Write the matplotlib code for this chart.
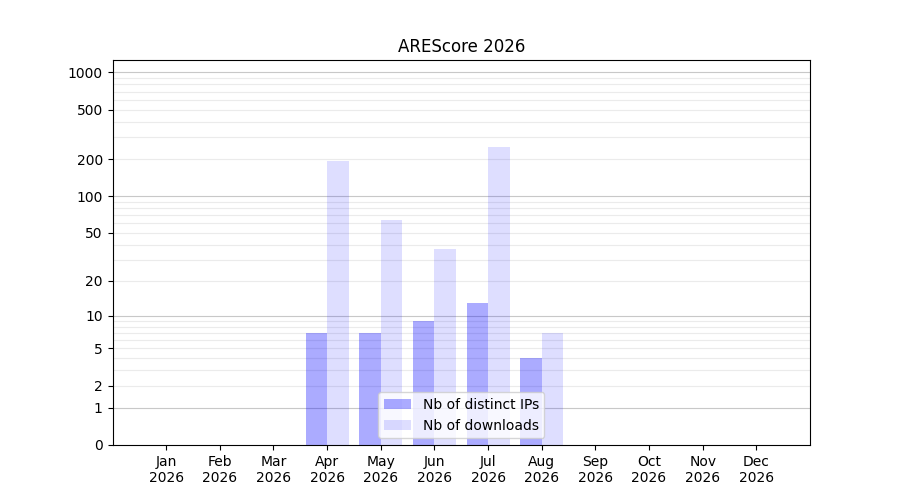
import numpy as np
import matplotlib
matplotlib.use("Agg")
import matplotlib.pyplot as plt

months = ['Jan', 'Feb', 'Mar', 'Apr', 'May', 'Jun',
          'Jul', 'Aug', 'Sep', 'Oct', 'Nov', 'Dec']
year = 2026
distinct_ips = [0, 0, 0, 7, 7, 9, 13, 4, 0, 0, 0, 0]
downloads = [0, 0, 0, 194, 64, 37, 252, 7, 0, 0, 0, 0]

ytick_vals = [0, 1, 2, 5, 10, 20, 50, 100, 200, 500, 1000]
major_grid = [1, 10, 100, 1000]
minor_grid = [m * d for d in [1, 10, 100] for m in range(2, 10)]


def fwd(y):
    return np.log10(np.asarray(y, dtype=float) + 1)


def inv(y):
    return 10 ** np.asarray(y, dtype=float) - 1


fig, ax = plt.subplots(figsize=(9, 5), dpi=100)
ax.set_yscale('function', functions=(fwd, inv))

x = np.arange(1, len(months) + 1)
w = 0.4
ax.bar(x - w / 2, distinct_ips, width=w, color='blue', alpha=0.33,
       label='Nb of distinct IPs', zorder=2)
ax.bar(x + w / 2, downloads, width=w, color='blue', alpha=0.13,
       label='Nb of downloads', zorder=2)

for v in minor_grid:
    ax.axhline(v, color='#ebebeb', lw=0.8, zorder=1)
for v in major_grid:
    ax.axhline(v, color='#c8c8c8', lw=0.8, zorder=1)

ax.set_ylim(0, 1260)
ax.set_xlim(0, 13)
ax.set_yticks(ytick_vals)
ax.set_yticklabels([str(v) for v in ytick_vals])
ax.minorticks_off()
ax.set_xticks(x)
ax.set_xticklabels([f'{m}\n{year}' for m in months])
ax.set_title(f'AREScore {year}')
ax.legend(loc='lower center')

fig.savefig('out.png', dpi=100)
